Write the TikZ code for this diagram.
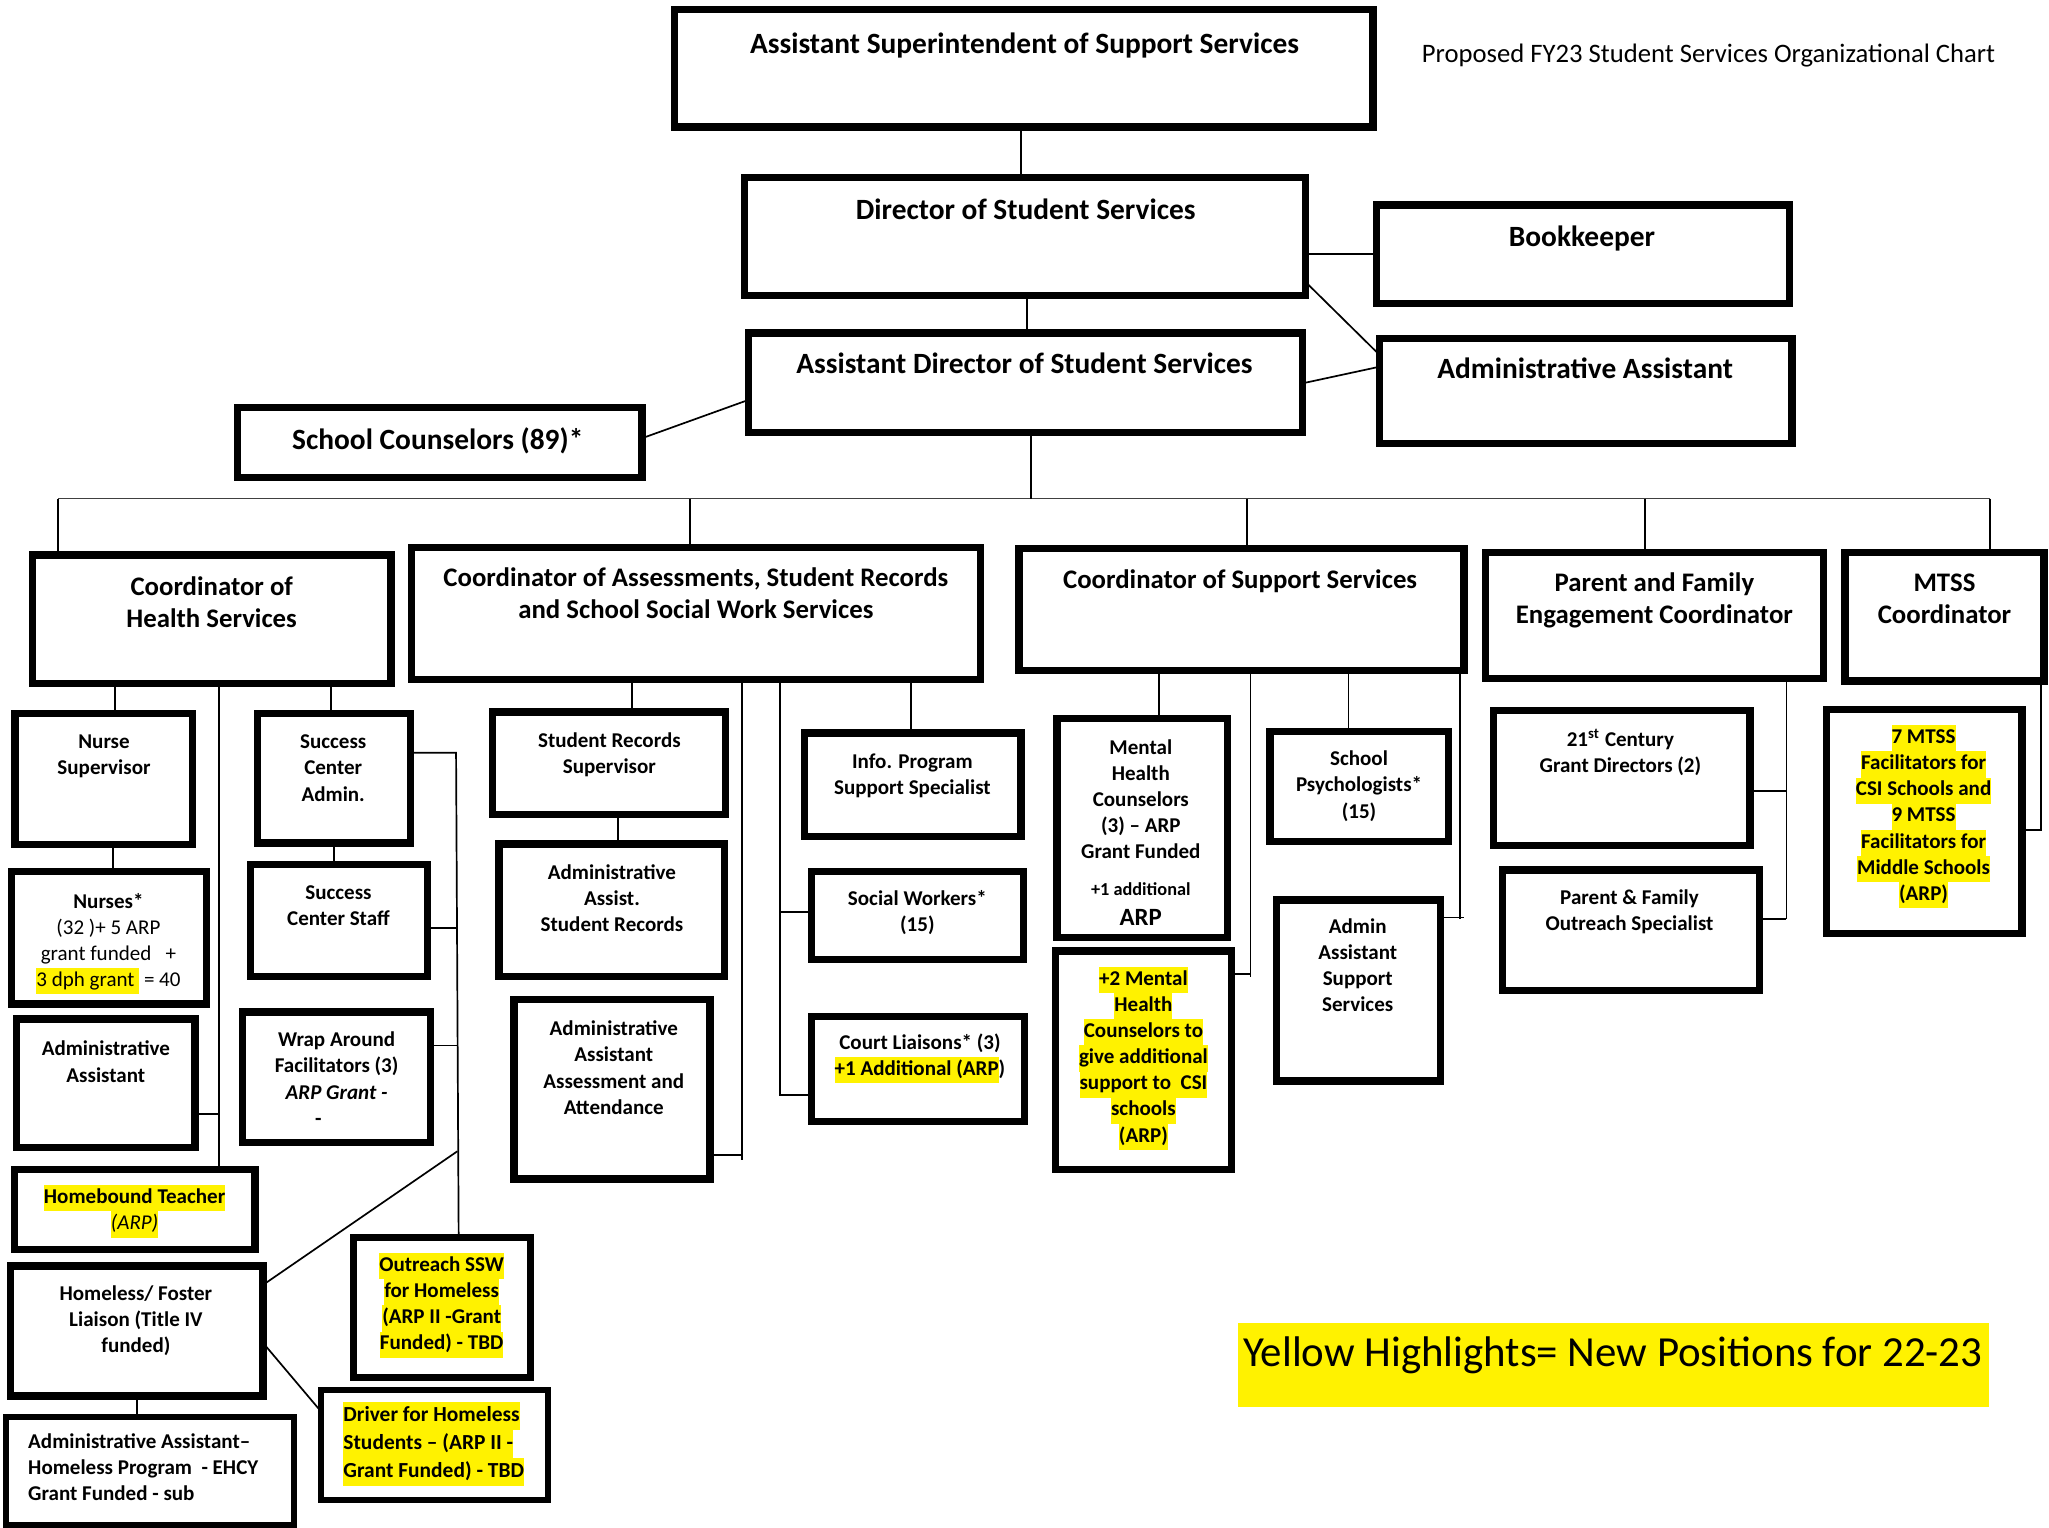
\documentclass[tikz,border=0pt]{standalone}
\usepackage{fontspec}
\setmainfont{Carlito}
\usetikzlibrary{fit}
\newcommand{\fTop}{\fontsize{11.25}{12}\selectfont\bfseries}
\newcommand{\fBig}{\fontsize{10.25}{12.1}\selectfont\bfseries}
\newcommand{\fSm}{\fontsize{8.05}{10}\selectfont\bfseries}
\newcommand{\fTitle}{\fontsize{10.2}{12}\selectfont}
\newcommand{\fLeg}{\fontsize{16.4}{19}\selectfont}
\newcommand{\hlt}[1]{{\setlength{\fboxsep}{0pt}\colorbox{yellow}{\strut #1}}}
% outer-edge box: [lw in pt] name x1 y1 x2 y2
\newcommand{\obox}[6][2.8]{\node[boxst, line width=#1pt, fit={(#3+#1,#4+#1) (#5-#1,#6-#1)}] (#2) {};}
\newcommand{\ctext}[5]{\node[tx,font=#2] (#1) at (#3,#4) {\begin{tabular}[t]{@{}c@{}}#5\end{tabular}};}
\newcommand{\ltext}[5]{\node[ltx,font=#2] (#1) at (#3,#4) {\begin{tabular}[t]{@{}l@{}}#5\end{tabular}};}
\begin{document}
\begin{tikzpicture}[x=0.5pt,y=-0.5pt,
  boxst/.style={draw, inner sep=0pt, outer sep=0pt},
  conn/.style={line width=0.65pt},
  tx/.style={inner sep=0pt, anchor=base},
  ltx/.style={inner sep=0pt, anchor=base west}]
\useasboundingbox[fill=white] (0,0) rectangle (1568,1169);

% ---------- top level ----------
\obox{as}{513.5}{4.6}{1053.4}{100}
\obox{dir}{567}{133}{1001.7}{229}
\obox{bk}{1050.7}{154}{1372}{235}
\obox{ad}{570}{252}{999.7}{333.6}
\obox{aa}{1053}{256}{1374}{342}
\obox{sc}{179}{309}{494}{368}

\ctext{tas}{\fTop}{784}{41}{Assistant Superintendent of Support Services}
\node[tx,font=\fTitle] (title) at (1307.5,48) {Proposed FY23 Student Services Organizational Chart};
\ctext{tdir}{\fTop}{785}{168}{Director of Student Services}
\ctext{tbk}{\fTop}{1210.6}{188.8}{Bookkeeper}
\ctext{tad}{\fTop}{784}{286}{Assistant Director of Student Services}
\ctext{taa}{\fTop}{1213}{289.5}{Administrative Assistant}
\ctext{tsc}{\fTop}{335}{344}{School Counselors (89)*}

\draw[conn] (as.south -| 781.5,0) -- (dir.north -| 781.5,0);
\draw[conn] (dir.south -| 785.7,0) -- (ad.north -| 785.7,0);
\draw[line width=1pt] (dir.east |- 0,194.4) -- (bk.west |- 0,194.4);
\draw[conn] (dir.east |- 0,215.6) -- (aa.west |- 0,271.7);
\draw[conn] (ad.east |- 0,293.3) -- (aa.west |- 0,280.6);
\draw[conn] (sc.east |- 0,335.4) -- (ad.west |- 0,306);

% ---------- bus ----------
\coordinate (busL) at (44.4,381.5);
\coordinate (busR) at (1523,381.5);
\coordinate (busM) at (789,381.5);
\draw[conn, black!75] (busL) -- (busR);
\draw[conn] (ad.south -| busM) -- (busM);

% ---------- coordinators ----------
\obox{ch}{22}{422}{302}{526}
\obox{ca}{312}{416}{753}{523}
\obox{cs}{777}{417}{1123}{516}
\obox{pf}{1134}{420}{1398}{522}
\obox{mt}{1409}{420}{1567}{524}

\ctext{tch}{\fBig}{162}{456}{Coordinator of\\Health Services}
\ctext{tca}{\fBig}{532.5}{449}{Coordinator of Assessments, Student Records\\and School Social Work Services}
\ctext{tcs}{\fBig}{949}{450}{Coordinator of Support Services}
\ctext{tpf}{\fBig}{1266}{453}{Parent and Family\\Engagement Coordinator}
\ctext{tmt}{\fBig}{1488}{453}{MTSS\\Coordinator}

\draw[conn] (busL) -- (ch.north -| busL);
\draw[conn] (527.8,0 |- busL) -- (ca.north -| 527.8,0);
\draw[conn] (954,0 |- busL) -- (cs.north -| 954,0);
\draw[conn] (1259,0 |- busL) -- (pf.north -| 1259,0);
\draw[conn] (busR) -- (mt.north -| busR);

% ---------- health column ----------
\obox{ns}{8.6}{543}{150.3}{649}
\obox{nu}{6}{664}{161}{771}
\obox{haa}{10}{777}{152}{881}
\obox{hb}{8.5}{892}{198}{959}
\obox{sca}{194}{543}{317}{648}
\obox{scs}{189}{659}{330}{750}
\obox{wrap}{183}{771.5}{332}{877}
\obox{hl}{5}{966}{204}{1071}
\obox[2.3]{aahp}{2}{1082}{227}{1169.5}
\obox{osw}{267.5}{944}{409}{1057}
\obox[2.3]{drv}{243.5}{1061}{422}{1150}

\ctext{tns}{\fSm}{79.6}{573}{Nurse\\Supervisor}
\ctext{tnu}{\fSm}{83}{695}{Nurses*\\\mdseries (32 )+ 5 ARP\\\mdseries grant funded \ \ +\\\mdseries\hlt{3 dph grant\ } = 40}
\ctext{thaa}{\fSm}{81}{808}{Administrative\\Assistant}
\ctext{thb}{\fSm}{103}{921}{\hlt{Homebound Teacher}\\\hlt{\mdseries\itshape (ARP)}}
\ctext{tsca}{\fSm}{255}{573}{Success\\Center\\Admin.}
\ctext{tscs}{\fSm}{259}{688}{Success\\Center Staff}
\ctext{twrap}{\fSm}{257.6}{801}{Wrap Around\\Facilitators (3)\\\itshape ARP Grant -\\-\hspace*{14pt}}
\ctext{thl}{\fSm}{104}{995}{Homeless/ Foster\\Liaison (Title IV\\funded)}
\ltext{taahp}{\fSm}{21.2}{1108.5}{Administrative Assistant–\\Homeless Program\ \ - EHCY\\Grant Funded - sub}
\ctext{tosw}{\fSm}{338}{973}{\hlt{Outreach SSW}\\\hlt{for Homeless}\\\hlt{(ARP II -Grant}\\\hlt{Funded) - TBD}}
\ltext{tdrv}{\fontsize{8.2}{10.75}\selectfont\bfseries}{262.4}{1088}{\hlt{Driver for Homeless}\\\hlt{Students – (ARP II -}\\\hlt{Grant Funded) - TBD}}

\draw[conn] (ch.south -| 88,0) -- (ns.north -| 88,0);
\draw[conn] (ns.south -| 86.4,0) -- (nu.north -| 86.4,0);
\draw[conn] (ch.south -| 167.4,0) -- (hb.north -| 167.4,0);
\coordinate (j1) at (167.4,852.3);
\draw[conn] (haa.east |- j1) -- (j1);
\draw[conn] (ch.south -| 253.5,0) -- (sca.north -| 253.5,0);
\draw[conn] (sca.south -| 255.5,0) -- (scs.north -| 255.5,0);
\coordinate (j2) at (349,576);
\coordinate (j3) at (350,881);
\draw[conn] (sca.east |- j2) -- (j2) -- (osw.north -| 351,0);
\draw[conn] (scs.east |- 0,710) -- (350,710);
\draw[conn] (wrap.east |- 0,800) -- (350,800);
\draw[conn] (j3) -- (hl.east |- 0,983.3);
\draw[conn] (hl.east |- 0,1027.5) -- (drv.west |- 0,1080.3);
\draw[conn] (hl.south -| 104.9,0) -- (aahp.north -| 104.9,0);

% ---------- assessments column ----------
\obox{srs}{374}{542}{558}{626}
\obox{aasr}{379}{643}{557}{750}
\obox{aaaa}{390.5}{762}{546}{905}
\obox{ip}{613}{558}{784}{643}
\obox{sw}{618}{664}{786}{737}
\obox{cl}{618}{775}{787}{861}

\ctext{tsrs}{\fSm}{466.3}{572}{Student Records\\Supervisor}
\ctext{taasr}{\fSm}{468.3}{673}{Administrative\\Assist.\\Student Records}
\ctext{taaaa}{\fSm}{469.7}{792.6}{Administrative\\Assistant\\Assessment and\\Attendance}
\ctext{tip}{\fSm}{698.2}{588}{Info. Program\\Support Specialist}
\ctext{tsw}{\fSm}{702}{693}{Social Workers*\\(15)}
\ctext{tcl}{\fSm}{704}{803}{Court Liaisons* (3)\\\hlt{+1 Additional (ARP})}

\draw[conn] (ca.south -| 483.4,0) -- (srs.north -| 483.4,0);
\draw[conn] (srs.south -| 473,0) -- (aasr.north -| 473,0);
\coordinate (j4) at (568,888);
\draw[conn] (ca.south -| j4) -- (j4);
\draw[conn] (aaaa.east |- 0,884) -- (568,884);
\coordinate (j5) at (597,838);
\draw[conn] (ca.south -| j5) -- (j5) -- (cl.west |- j5);
\draw[conn] (597,698) -- (sw.west |- 0,698);
\draw[conn] (ca.south -| 697,0) -- (ip.north -| 697,0);

% ---------- support services column ----------
\obox{mhc}{806}{547}{942}{720}
\obox{mh2}{805}{725}{945}{898}
\obox{psy}{969}{557}{1111}{647}
\obox{aass}{974}{686}{1105}{830}

\ctext{tmhc}{\fSm}{873}{577}{Mental\\Health\\Counselors\\(3) – ARP\\Grant Funded}
\ctext{tmhcb}{\fontsize{7}{8}\selectfont\bfseries}{873}{685}{+1 additional}
\ctext{tmhcc}{\fontsize{9.5}{11}\selectfont\bfseries}{873}{708}{ARP}
\ctext{tmh2}{\fSm}{875}{754}{\hlt{+2 Mental}\\\hlt{Health}\\\hlt{Counselors to}\\\hlt{give additional}\\\hlt{support to\ \ CSI}\\\hlt{schools}\\\hlt{(ARP)}}
\ctext{tpsy}{\fSm}{1040}{586}{School\\Psychologists*\\(15)}
\ctext{taass}{\fSm}{1039}{714}{Admin\\Assistant\\Support\\Services}

\draw[conn] (cs.south -| 887,0) -- (mhc.north -| 887,0);
\coordinate (j6) at (957,748);
\draw[conn] (cs.south -| j6) -- (j6);
\draw[conn] (mh2.east |- 0,745.6) -- (957,745.6);
\draw[conn] (cs.south -| 1032,0) -- (psy.north -| 1032,0);
\coordinate (j7) at (1117.5,703);
\draw[conn] (cs.south -| j7) -- (j7);
\draw[conn] (aass.east |- 0,702) -- (1120,702);

% ---------- parent column ----------
\obox{c21}{1140}{541}{1342}{650}
\obox{pfo}{1147}{663}{1349}{761}
\ctext{tc21}{\fSm}{1240}{571}{21\textsuperscript{st} Century\\Grant Directors (2)}
\ctext{tpfo}{\fSm}{1247}{692}{Parent \& Family\\Outreach Specialist}
\coordinate (j8) at (1367,703);
\draw[conn] (pf.south -| j8) -- (j8);
\draw[conn] (c21.east |- 0,605.5) -- (1367,605.5);
\draw[conn] (pfo.east |- j8) -- (j8);

% ---------- MTSS column ----------
\obox{mtf}{1395}{540}{1550}{717}
\ctext{tmtf}{\fSm}{1472}{569}{\hlt{7 MTSS}\\\hlt{Facilitators for}\\\hlt{CSI Schools and}\\\hlt{9 MTSS}\\\hlt{Facilitators for}\\\hlt{Middle Schools}\\\hlt{(ARP)}}
\coordinate (j9) at (1562,635);
\draw[conn] (mt.south -| j9) -- (j9) -- (mtf.east |- j9);

% ---------- legend ----------
\node[fill=yellow, inner sep=0pt, fit={(947.3,1012.2) (1522.3,1077)}] (legbox) {};
\node[tx,font=\fLeg] (leg) at (1234.2,1046) {Yellow Highlights= New Positions for 22-23};
\end{tikzpicture}
\end{document}
